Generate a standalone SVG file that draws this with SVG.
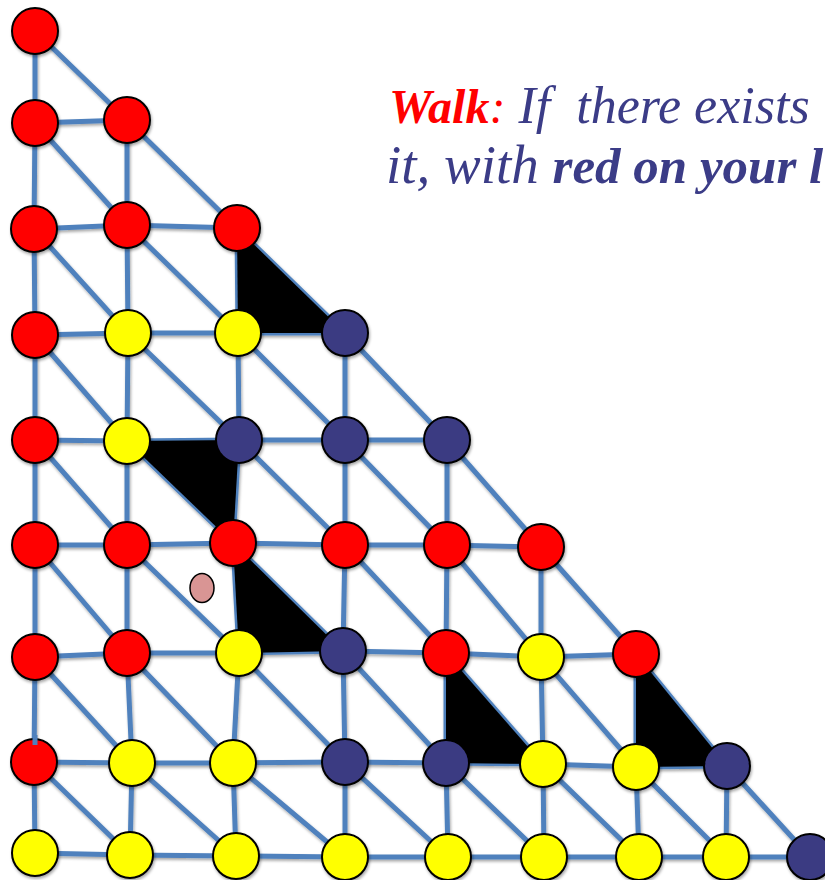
<svg xmlns="http://www.w3.org/2000/svg" width="825" height="880" viewBox="0 0 825 880">
<defs>
<filter id="sh" x="-10%" y="-10%" width="120%" height="120%">
<feGaussianBlur in="SourceAlpha" stdDeviation="1.5"/>
<feOffset dx="1" dy="2" result="b"/>
<feComponentTransfer><feFuncA type="linear" slope="0.35"/></feComponentTransfer>
<feMerge><feMergeNode/><feMergeNode in="SourceGraphic"/></feMerge>
</filter>
<style>
.e{stroke:#4F81BD;stroke-width:5;fill:none;stroke-linecap:butt}
.n{stroke:#000;stroke-width:2}
.r{fill:#FF0000}.y{fill:#FFFF00}.b{fill:#3B3B82}
.t{fill:#000}
.cap{font-family:"Liberation Serif","Times New Roman",serif;font-style:italic;fill:#3B3C87;white-space:pre}
</style>
</defs>
<rect width="825" height="880" fill="#fff"/>
<g id="connectors" filter="url(#sh)">
<path class="e" d="M35,123L127,120 M34,229L127,225L237,228 M35,335L128,333L238,333L345,333 M35,440L127,441L239,440L345,440L447,440 M35,545L127,545L233,543L345,545L447,545L541,547 M35,657L127,653L239,653L343,651L446,653L541,657L636,654 M34,762L132,763L233,763L345,762L446,763L543,764L636,767L727,766 M35,853L130,855L236,856L345,857L448,857L544,857L639,857L726,857L810,857"/>
<path class="e" d="M35,31L35,123L34,229L35,335L35,440L35,545L35,657L34,762L35,853 M127,120L127,225L128,333L127,441L127,545L127,653L132,763L130,855 M237,228L238,333L239,440L233,543L239,653L233,763L236,856 M345,333L345,440L345,545L343,651L345,762L345,857 M447,440L447,545L446,653L446,763L448,857 M541,547L541,657L543,764L544,857 M636,654L636,767L639,857 M727,766L726,857"/>
<path class="e" d="M35,31L127,120L237,228L345,333L447,440L541,547L636,654L727,766L810,857 M35,123L127,225L238,333L345,440L447,545L541,657L636,767L726,857 M34,229L128,333L239,440L345,545L446,653L543,764L639,857 M35,335L127,441L233,543L343,651L446,763L544,857 M35,440L127,545L239,653L345,762L448,857 M35,545L127,653L233,763L345,857 M35,657L132,763L236,856 M34,762L130,855"/>
</g>
<g id="triangles">
<polygon class="t" points="237,228 238,333 345,333"/>
<polygon class="t" points="127,441 239,440 233,543"/>
<polygon class="t" points="233,543 239,653 343,651"/>
<polygon class="t" points="446,653 446,763 543,764"/>
<polygon class="t" points="636,654 636,767 727,766"/>
</g>
<g id="nodes" filter="url(#sh)">
<circle id="n00" class="n r" cx="35" cy="31" r="23"/>
<circle id="n10" class="n r" cx="35" cy="123" r="23"/>
<circle id="n11" class="n r" cx="127" cy="120" r="23"/>
<circle id="n20" class="n r" cx="34" cy="229" r="23"/>
<circle id="n21" class="n r" cx="127" cy="225" r="23"/>
<circle id="n22" class="n r" cx="237" cy="228" r="23"/>
<circle id="n30" class="n r" cx="35" cy="335" r="23"/>
<circle id="n31" class="n y" cx="128" cy="333" r="23"/>
<circle id="n32" class="n y" cx="238" cy="333" r="23"/>
<circle id="n33" class="n b" cx="345" cy="333" r="23"/>
<circle id="n40" class="n r" cx="35" cy="440" r="23"/>
<circle id="n41" class="n y" cx="127" cy="441" r="23"/>
<circle id="n42" class="n b" cx="239" cy="440" r="23"/>
<circle id="n43" class="n b" cx="345" cy="440" r="23"/>
<circle id="n44" class="n b" cx="447" cy="440" r="23"/>
<circle id="n50" class="n r" cx="35" cy="545" r="23"/>
<circle id="n51" class="n r" cx="127" cy="545" r="23"/>
<circle id="n52" class="n r" cx="233" cy="543" r="23"/>
<circle id="n53" class="n r" cx="345" cy="545" r="23"/>
<circle id="n54" class="n r" cx="447" cy="545" r="23"/>
<circle id="n55" class="n r" cx="541" cy="547" r="23"/>
<circle id="n60" class="n r" cx="35" cy="657" r="23"/>
<circle id="n61" class="n r" cx="127" cy="653" r="23"/>
<circle id="n62" class="n y" cx="239" cy="653" r="23"/>
<circle id="n63" class="n b" cx="343" cy="651" r="23"/>
<circle id="n64" class="n r" cx="446" cy="653" r="23"/>
<circle id="n65" class="n y" cx="541" cy="657" r="23"/>
<circle id="n66" class="n r" cx="636" cy="654" r="23"/>
<circle id="n70" class="n r" cx="34" cy="762" r="23"/>
<circle id="n71" class="n y" cx="132" cy="763" r="23"/>
<circle id="n72" class="n y" cx="233" cy="763" r="23"/>
<circle id="n73" class="n b" cx="345" cy="762" r="23"/>
<circle id="n74" class="n b" cx="446" cy="763" r="23"/>
<circle id="n75" class="n y" cx="543" cy="764" r="23"/>
<circle id="n76" class="n y" cx="636" cy="767" r="23"/>
<circle id="n77" class="n b" cx="727" cy="766" r="23"/>
<circle id="n80" class="n y" cx="35" cy="853" r="23"/>
<circle id="n81" class="n y" cx="130" cy="855" r="23"/>
<circle id="n82" class="n y" cx="236" cy="856" r="23"/>
<circle id="n83" class="n y" cx="345" cy="857" r="23"/>
<circle id="n84" class="n y" cx="448" cy="857" r="23"/>
<circle id="n85" class="n y" cx="544" cy="857" r="23"/>
<circle id="n86" class="n y" cx="639" cy="857" r="23"/>
<circle id="n87" class="n y" cx="726" cy="857" r="23"/>
<circle id="n88" class="n b" cx="810" cy="857" r="23"/>
</g>
<line class="e" x1="35" y1="735" x2="35" y2="745"/>
<ellipse id="marker" cx="202" cy="588" rx="12" ry="14.5" fill="#D99594" stroke="#000" stroke-width="1.5"/>
<g id="caption">
<text class="cap" x="389" y="123" font-size="52"><tspan fill="#FF0000" font-weight="bold" font-size="48">Walk</tspan><tspan fill="#FF0000" font-size="48">:</tspan> If  there exists</text>
<text class="cap" x="386" y="183" font-size="55">it, with <tspan font-weight="bold" font-size="51">red on your l</tspan></text>
</g>
</svg>
